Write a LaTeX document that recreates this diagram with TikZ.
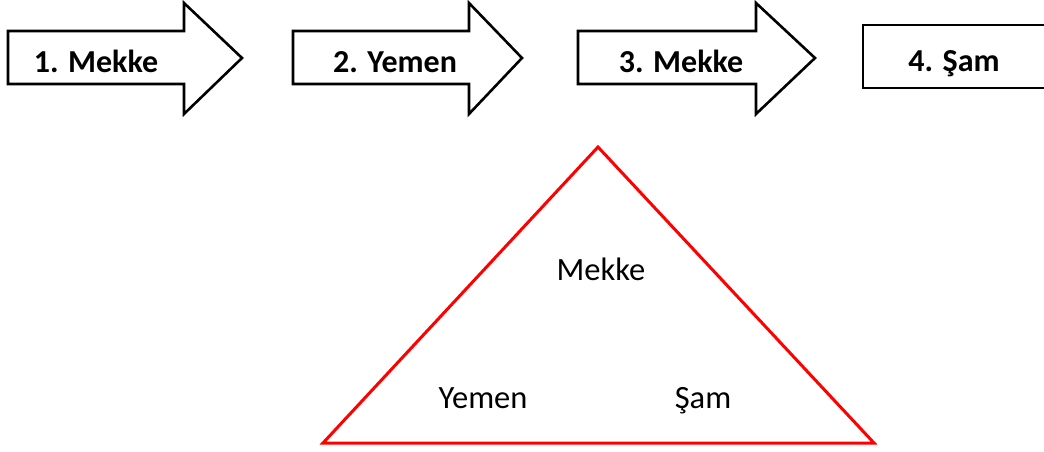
\documentclass[tikz,border=0pt]{standalone}
\usepackage{fontspec}
\setmainfont{Carlito}
\begin{document}
\begin{tikzpicture}[x=1pt,y=-1pt,
  arrowbox/.style={draw=black,line width=2.6pt,fill=white,line join=miter},
  toplabel/.style={font=\fontsize{32}{38}\selectfont\bfseries,anchor=base,inner sep=0pt},
  trilabel/.style={font=\fontsize{32.5}{38}\selectfont,anchor=base,inner sep=0pt}]
\useasboundingbox (0,0) rectangle (1044,452);
% arrow 1
\draw[arrowbox] (8,31) -- (184,31) -- (184,3) -- (242,58) -- (184,114) -- (184,84) -- (8,84) -- cycle;
\node[toplabel] (a1) at (96,73) {1. Mekke};
% arrow 2
\draw[arrowbox] (293,31) -- (469,31) -- (469,3) -- (522,58) -- (469,114) -- (469,84) -- (293,84) -- cycle;
\node[toplabel] (a2) at (395,73) {2. Yemen};
% arrow 3
\draw[arrowbox] (578,31) -- (756,31) -- (756,3) -- (815,58) -- (756,114) -- (756,84) -- (578,84) -- cycle;
\node[toplabel] (a3) at (681,73) {3. Mekke};
% box 4
\draw[arrowbox] (863,25) rectangle (1060,88);
\node[toplabel] (a4) at (954,71) {4. Şam};
% triangle
\coordinate (tA) at (598,147);
\coordinate (tL) at (323,443);
\coordinate (tR) at (874,443);
\draw[red,line width=3pt,line join=miter] (tA) -- (tR) -- (tL) -- cycle;
\node[trilabel] (m) at (601,280) {Mekke};
\node[trilabel] (y) at (483,408) {Yemen};
\node[trilabel] (s) at (703,408) {Şam};
\end{tikzpicture}
\end{document}
